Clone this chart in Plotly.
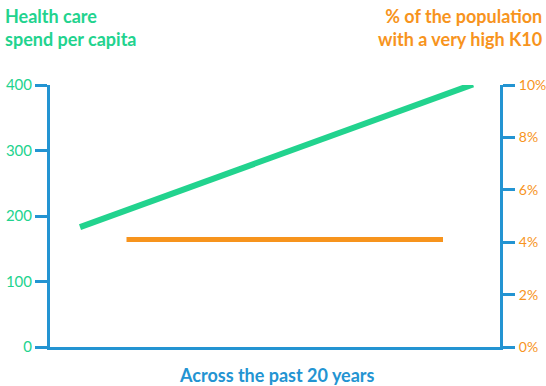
import plotly.graph_objects as go

# Data
spend_x = [1.0, 14.1]
spend_y = [183, 401]
k10_x = [2.55, 13.1]
k10_y = [4.1, 4.1]
left_ticks = [0, 100, 200, 300, 400]
right_ticks = [0, 2, 4, 6, 8, 10]
right_labels = ["0%", "2%", "4%", "6%", "8%", "10%"]

GREEN = "#22d38e"
ORANGE = "#f7941d"
BLUE = "#2394d2"
FONT = "Lato"

fig = go.Figure()
fig.add_trace(go.Scatter(x=spend_x, y=spend_y, mode="lines",
                         line=dict(color=GREEN, width=6), yaxis="y"))
fig.add_trace(go.Scatter(x=k10_x, y=k10_y, mode="lines",
                         line=dict(color=ORANGE, width=5), yaxis="y2"))

fig.update_layout(
    width=546, height=386,
    margin=dict(l=50, r=46, t=85, b=39),
    paper_bgcolor="white", plot_bgcolor="white",
    showlegend=False,
    font=dict(family=FONT),
    xaxis=dict(range=[0, 15], showgrid=False, zeroline=False, showticklabels=False,
               ticks="", showline=True, linecolor=BLUE, linewidth=3, fixedrange=True,
               automargin=False),
    yaxis=dict(range=[0, 400], tickvals=left_ticks, showgrid=False, zeroline=False,
               showline=True, linecolor=BLUE, linewidth=3, ticks="outside",
               ticklen=12, tickwidth=3, tickcolor=BLUE, automargin=False,
               tickfont=dict(color=GREEN, size=15, family=FONT)),
    yaxis2=dict(range=[0, 10], tickvals=right_ticks, ticktext=right_labels,
                overlaying="y", side="right", showgrid=False, zeroline=False,
                showline=True, linecolor=BLUE, linewidth=3, ticks="outside",
                ticklen=12, tickwidth=3, tickcolor=BLUE, automargin=False,
                ticklabelstandoff=1,
                tickfont=dict(color=ORANGE, size=14, family=FONT)),
    annotations=[
        dict(text="<b>Health care<br>spend per capita</b>", xref="paper", yref="paper",
             x=-47/450, y=1 + 82/262, xanchor="left", yanchor="top", align="left",
             showarrow=False, font=dict(color=GREEN, size=18, family=FONT)),
        dict(text="<b>% of the population<br>with a very high K10</b>", xref="paper", yref="paper",
             x=1 + 44/450, y=1 + 82/262, xanchor="right", yanchor="top", align="right",
             showarrow=False, font=dict(color=ORANGE, size=18, family=FONT)),
        dict(text="<b>Across the past 20 years</b>", xref="paper", yref="paper",
             x=(277-50)/450, y=-(375-347)/262, xanchor="center", yanchor="middle",
             showarrow=False, font=dict(color=BLUE, size=18, family=FONT)),
    ],
)

fig.write_html("out.html", config={"displayModeBar": False},
               post_script="document.body.style.margin='0';")
